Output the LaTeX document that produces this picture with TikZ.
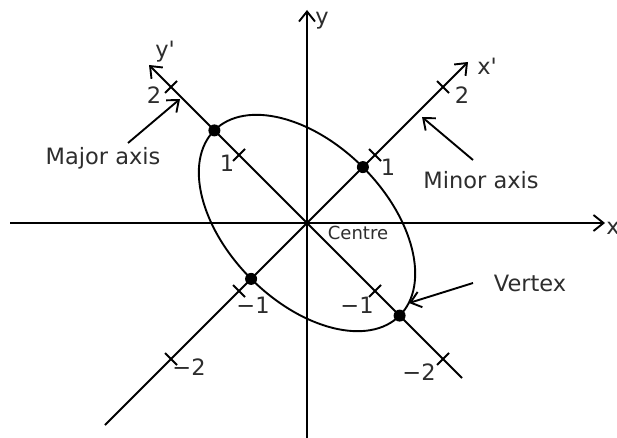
\documentclass[tikz,border=0pt]{standalone}
\usepackage{fontspec}
\newfontfamily\dvs{DejaVu Sans}
\usetikzlibrary{arrows.meta,calc}
\definecolor{txt}{RGB}{45,45,45}
\begin{document}
\begin{tikzpicture}[x=1pt,y=1pt,
  axis/.style={line width=1.9pt,-{Straight Barb[length=10pt,width=16pt,line width=1.9pt]}},
  plain/.style={line width=1.9pt},
  ann/.style={line width=1.9pt,-{Straight Barb[length=10pt,width=16pt,line width=1.9pt]}},
  lbl/.style={text=txt,font=\dvs\fontsize{22.5}{26}\selectfont,inner sep=0pt},
  small/.style={text=txt,font=\dvs\fontsize{18}{22}\selectfont,inner sep=0pt},
  dot/.style={circle,fill=black,inner sep=0pt,minimum size=12pt},
  tick/.style={line width=1.9pt}]
\useasboundingbox (0,0) rectangle (617,437);
\coordinate (O) at (307,214);
% axes
\coordinate (xl) at (10,214);
\coordinate (xr) at (605,214);
\coordinate (yb) at (307,-5);
\coordinate (yt) at (307,427);
\draw[axis] (xl) -- (xr);
\draw[axis] (yb) -- (yt);
\coordinate (xpl) at (105,12);
\coordinate (xpr) at (468,375);
\coordinate (ypl) at (149,372);
\coordinate (ypr) at (462,59);
\draw[axis] (xpl) -- (xpr);
\draw[axis] (ypr) -- (ypl);
% ellipse
\draw[plain,rotate around={-45:(O)}] (O) ellipse [x radius=131, y radius=79];
% ticks
\foreach \k in {-2,-1,1,2}{
  \draw[tick] ($(O)+(68*\k,68*\k)+(-6,6)$) -- ($(O)+(68*\k,68*\k)+(6,-6)$);
  \draw[tick] ($(O)+(-68*\k,68*\k)+(-6,-6)$) -- ($(O)+(-68*\k,68*\k)+(6,6)$);
}
% dots
\node[dot] (v1) at (214.4,306.6) {};
\node[dot] (v2) at (399.6,121.4) {};
\node[dot] (m1) at (362.9,269.9) {};
\node[dot] (m2) at (251.1,158.1) {};
% axis labels
\node[lbl] (ly) at (322,416) {y};
\node[lbl] (lx) at (613,209) {x};
\node[lbl] (lxp) at (487,371) {x'};
\node[lbl] (lyp) at (165,385) {y'};
% tick labels
\node[lbl] (t1) at (154,342) {2};
\node[lbl] (t2) at (227,274) {1};
\node[lbl] (t3) at (388,270) {1};
\node[lbl] (t4) at (462,342) {2};
\node[lbl] (t5) at (357,132) {−1};
\node[lbl] (t6) at (419,65) {−2};
\node[lbl] (t7) at (253,132) {−1};
\node[lbl] (t8) at (189,70) {−2};
% annotations
\node[lbl] (major) at (103,279) {Major axis};
\node[lbl] (minor) at (481,257) {Minor axis};
\node[small] (centre) at (358,204) {Centre};
\node[lbl] (vertex) at (530,154) {Vertex};
\coordinate (ma0) at (128,294);
\coordinate (ma1) at (180,338);
\coordinate (mi0) at (473,277);
\coordinate (mi1) at (422,320);
\coordinate (ve0) at (473,154);
\coordinate (ve1) at (409,134);
\draw[ann] (ma0) -- (ma1);
\draw[ann] (mi0) -- (mi1);
\draw[ann] (ve0) -- (ve1);
\end{tikzpicture}
\end{document}
